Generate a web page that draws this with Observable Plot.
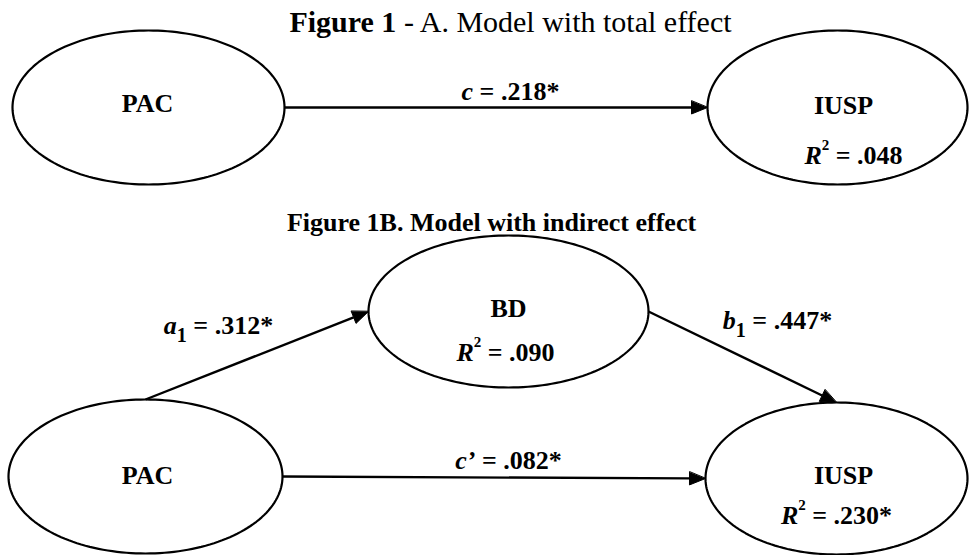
<!DOCTYPE html>
<html><head><meta charset="utf-8">
<script src="https://cdn.jsdelivr.net/npm/d3@7"></script>
<script src="https://cdn.jsdelivr.net/npm/@observablehq/plot@0.6"></script>
<style>body{margin:0;background:#fff}</style>
</head><body><div id="chart"></div>
<script>
// ---- Diagram data ----
const titleTexts = ["Figure 1 - A. Model with total effect", "Figure 1B. Model with indirect effect"];
const titleX = [510, 491];
const titleY = [22, 222];

const nodeNames = ["PAC", "IUSP", "BD", "PAC", "IUSP"];
const nodeCX = [148, 837, 508, 145, 836];
const nodeCY = [107, 107, 311, 476, 478];
const nodeRX = [136, 130, 140, 137, 131];
const nodeRY = [77, 77, 76, 77, 76];
const nameX = [147, 843, 508, 147, 843];
const nameY = [103, 105, 308, 475, 475];
const nodeR2 = [null, ".048", ".090", null, ".230*"];
const r2X = [null, 853, 505, null, 836];
const r2Y = [null, 155, 352, null, 515];

const edgeFrom = [0, 3, 2, 3];
const edgeTo = [1, 2, 4, 4];
const edgeFromSide = ["right", "top", "right", "right"];
const edgeToSide = ["left", "left", "top", "left"];
const edgeSymbol = ["c", "a", "b", "c’"];
const edgeSub = ["", "1", "1", ""];
const edgeValue = [".218*", ".312*", ".447*", ".082*"];
const labelX = [510, 218, 777, 508];
const labelY = [91, 325, 320, 460];

// ---- Build mark tables ----
const FONT = "'Liberation Serif','Times New Roman',Times,serif";
const nodes = nodeNames.map((name, i) => ({i, name, cx: nodeCX[i], cy: nodeCY[i], rx: nodeRX[i], ry: nodeRY[i]}));
const ellipsePts = nodes.flatMap(n => d3.range(0, 360, 2).map(a => ({
  id: n.i, x: n.cx + n.rx * Math.cos(a * Math.PI / 180), y: n.cy + n.ry * Math.sin(a * Math.PI / 180)
})));
function anchor(n, side) {
  if (side === "left") return [n.cx - n.rx, n.cy];
  if (side === "right") return [n.cx + n.rx, n.cy];
  if (side === "top") return [n.cx, n.cy - n.ry];
  return [n.cx, n.cy + n.ry];
}
const HEAD_L = 16, HEAD_W = 6.5;
const edges = edgeFrom.map((f, i) => {
  const [x1, y1] = anchor(nodes[f], edgeFromSide[i]);
  const [x2, y2] = anchor(nodes[edgeTo[i]], edgeToSide[i]);
  const len = Math.hypot(x2 - x1, y2 - y1), ux = (x2 - x1) / len, uy = (y2 - y1) / len;
  return {i, x1, y1, x2, y2, bx: x2 - HEAD_L * ux, by: y2 - HEAD_L * uy, nx: -uy, ny: ux};
});
const heads = edges.flatMap(e => [
  {id: e.i, x: e.x2, y: e.y2},
  {id: e.i, x: e.bx + HEAD_W * e.nx, y: e.by + HEAD_W * e.ny},
  {id: e.i, x: e.bx - HEAD_W * e.nx, y: e.by - HEAD_W * e.ny}
]);
const edgeLabels = edgeSymbol.map((s, i) => ({x: labelX[i], y: labelY[i], text: `${s}${edgeSub[i]} = ${edgeValue[i]}`}));
const nameLabels = nodeNames.map((n, i) => ({x: nameX[i], y: nameY[i], text: n}));
const r2Labels = nodeR2.map((v, i) => v && {x: r2X[i], y: r2Y[i], text: `R2 = ${v}`}).filter(Boolean);
const titles = titleTexts.map((t, i) => ({x: titleX[i], y: titleY[i], text: t}));

// rich text specs
const rich = new Map();
rich.set(titleTexts[0], [{t: "Figure 1", w: "bold"}, {t: " - A. Model with total effect", w: "normal"}]);
edgeSymbol.forEach((s, i) => {
  const segs = [{t: s, it: true}];
  if (edgeSub[i]) segs.push({t: edgeSub[i], size: 20, dy: 8});
  segs.push({t: ` = ${edgeValue[i]}`});
  rich.set(`${s}${edgeSub[i]} = ${edgeValue[i]}`, segs);
});
nodeR2.forEach(v => v && rich.set(`R2 = ${v}`, [{t: "R", it: true}, {t: "2", size: 15, dy: -14}, {t: ` = ${v}`}]));

const plot = Plot.plot({
  width: 969, height: 555, margin: 0,
  x: {domain: [0, 969], range: [0, 969], axis: null},
  y: {domain: [0, 555], range: [0, 555], axis: null},
  style: {background: "#fff", fontFamily: FONT},
  marks: [
    Plot.line(ellipsePts, {x: "x", y: "y", z: "id", curve: "linear-closed", stroke: "#000", strokeWidth: 2.2}),
    Plot.link(edges, {x1: "x1", y1: "y1", x2: "bx", y2: "by", stroke: "#000", strokeWidth: 2.4}),
    Plot.line(heads, {x: "x", y: "y", z: "id", curve: "linear-closed", fill: "#000", stroke: "#000", strokeWidth: 1}),
    Plot.text(titles.slice(0, 1), {x: "x", y: "y", text: "text", fontSize: 30, fontWeight: "normal", fontFamily: FONT, fill: "#000"}),
    Plot.text(titles.slice(1), {x: "x", y: "y", text: "text", fontSize: 26, fontWeight: "bold", fontFamily: FONT, fill: "#000"}),
    Plot.text(nameLabels, {x: "x", y: "y", text: "text", fontSize: 26, fontWeight: "bold", fontFamily: FONT, fill: "#000"}),
    Plot.text(r2Labels, {x: "x", y: "y", text: "text", fontSize: 26, fontWeight: "bold", fontFamily: FONT, fill: "#000"}),
    Plot.text(edgeLabels, {x: "x", y: "y", text: "text", fontSize: 26, fontWeight: "bold", fontFamily: FONT, fill: "#000"})
  ]
});

// turn plain strings into styled tspans (italic letters, sub/superscripts)
plot.querySelectorAll("text").forEach(el => {
  const key = el.textContent;
  if (!rich.has(key)) return;
  const segs = rich.get(key);
  while (el.firstChild) el.removeChild(el.firstChild);
  let shift = 0;
  for (const s of segs) {
    const ts = document.createElementNS("http://www.w3.org/2000/svg", "tspan");
    ts.textContent = s.t;
    if (s.it) ts.setAttribute("font-style", "italic");
    if (s.w) ts.setAttribute("font-weight", s.w);
    if (s.size) ts.setAttribute("font-size", s.size);
    const want = s.dy || 0;
    if (want - shift) ts.setAttribute("dy", want - shift);
    shift = want;
    el.appendChild(ts);
  }
});
document.getElementById("chart").appendChild(plot);
</script>
</body></html>
